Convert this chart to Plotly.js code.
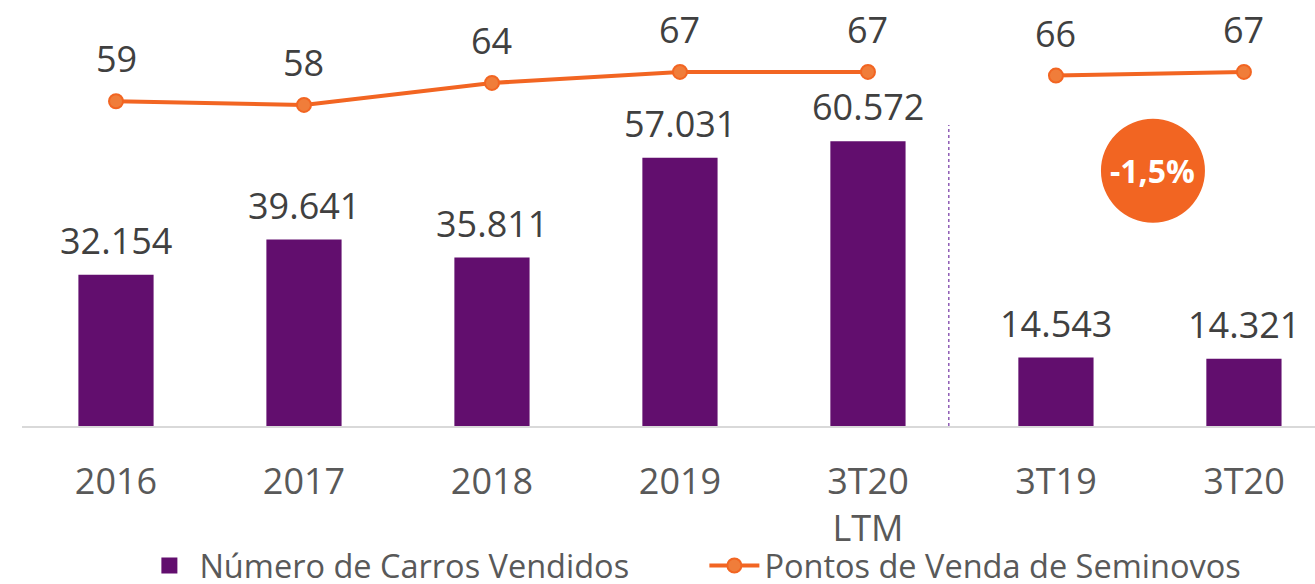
<!DOCTYPE html>
<html>
<head>
<meta charset="utf-8">
<script src="https://cdn.plot.ly/plotly-3.0.1.min.js"></script>
<style>html,body{margin:0;padding:0;background:#fff;}#chart{width:1315px;height:584px;}</style>
</head>
<body>
<div id="chart"></div>
<script>
const categories = ["2016", "2017", "2018", "2019", "3T20<br>LTM", "3T19", "3T20"];
const carrosVendidos = [32154, 39641, 35811, 57031, 60572, 14543, 14321];
const pontosAnual = [59, 58, 64, 67, 67];
const pontosTrimestre = [66, 67];
const badgeText = "-1,5%";

const purple = "#620E6E";
const orange = "#F26522";

function fmt(n) {
  return String(n).replace(/\B(?=(\d{3})+(?!\d))/g, ".");
}

const catAnual = categories.slice(0, 5);
const catTri = categories.slice(5);
const labelFont = {family: "Open Sans", size: 36, color: "#404040"};

const traces = [
  {
    type: "bar", name: "Número de Carros Vendidos",
    x: categories, y: carrosVendidos, showlegend: false,
    marker: {color: purple}, width: 0.4,
    hoverinfo: "skip"
  },
  {
    type: "scatter", mode: "markers", name: "Número de Carros Vendidos",
    x: [categories[0]], y: [null],
    marker: {symbol: "square", size: 30, color: purple},
    hoverinfo: "skip"
  },
  {
    type: "scatter", mode: "lines+markers", name: "Pontos de Venda de Seminovos",
    x: catAnual, y: pontosAnual, yaxis: "y2", legendgroup: "p",
    line: {color: orange, width: 4},
    marker: {size: 14, color: "#F07D3A", line: {color: orange, width: 2}},
    hoverinfo: "skip"
  },
  {
    type: "scatter", mode: "lines+markers", name: "Pontos de Venda de Seminovos",
    x: catTri, y: pontosTrimestre, yaxis: "y2", legendgroup: "p", showlegend: false,
    line: {color: orange, width: 4},
    marker: {size: 14, color: "#F07D3A", line: {color: orange, width: 2}},
    hoverinfo: "skip"
  }
];

const annotations = [];
categories.forEach((c, i) => {
  annotations.push({
    x: i, y: carrosVendidos[i], xref: "x", yref: "y",
    text: fmt(carrosVendidos[i]), showarrow: false,
    yanchor: "bottom", yshift: 8, font: labelFont
  });
});
pontosAnual.forEach((v, i) => {
  annotations.push({
    x: i, y: v, xref: "x", yref: "y2",
    text: String(v), showarrow: false,
    yanchor: "bottom", yshift: 16, font: labelFont
  });
});
pontosTrimestre.forEach((v, i) => {
  annotations.push({
    x: catAnual.length + i, y: v, xref: "x", yref: "y2",
    text: String(v), showarrow: false,
    yanchor: "bottom", yshift: 16, font: labelFont
  });
});
annotations.push({
  x: 5.516, y: 54300, xref: "x", yref: "y",
  text: "<b>" + badgeText + "</b>", showarrow: false,
  font: {family: "Open Sans", size: 32, color: "#ffffff"}
});

const layout = {
  width: 1315, height: 584,
  margin: {l: 22, r: 0, t: 0, b: 158},
  paper_bgcolor: "#fff", plot_bgcolor: "#fff",
  showlegend: true,
  legend: {
    orientation: "h", xref: "container", yref: "container",
    x: 0.106, xanchor: "left", y: 0.031, yanchor: "middle",
    bgcolor: "rgba(0,0,0,0)",
    font: {family: "Open Sans", size: 32.5, color: "#595959"},
    itemwidth: 50, tracegroupgap: 0, entrywidth: 500
  },
  xaxis: {
    type: "category", range: [-0.5, 6.378],
    showline: true, linecolor: "#D9D9D9", linewidth: 2,
    showgrid: false, zeroline: false, ticks: "",
    ticklabelstandoff: 23,
    tickfont: {family: "Open Sans", size: 36, color: "#595959"}
  },
  yaxis: {range: [0, 90600], visible: false, showgrid: false, zeroline: false},
  yaxis2: {range: [-29.5, 86.6], overlaying: "y", visible: false, showgrid: false, zeroline: false},
  shapes: [
    {type: "line", xref: "x", yref: "y", x0: 4.43, x1: 4.43, y0: 0, y1: 64000,
     line: {color: "#8E5CB5", width: 1.5, dash: "dot"}},
    {type: "circle", xref: "x", yref: "y", xsizemode: "pixel", ysizemode: "pixel",
     xanchor: 5.516, yanchor: 54300, x0: -52, x1: 52, y0: -52, y1: 52,
     fillcolor: orange, line: {width: 0}, layer: "above"}
  ],
  annotations: annotations
};

Plotly.newPlot("chart", traces, layout, {displayModeBar: false, staticPlot: true});
</script>
</body>
</html>
